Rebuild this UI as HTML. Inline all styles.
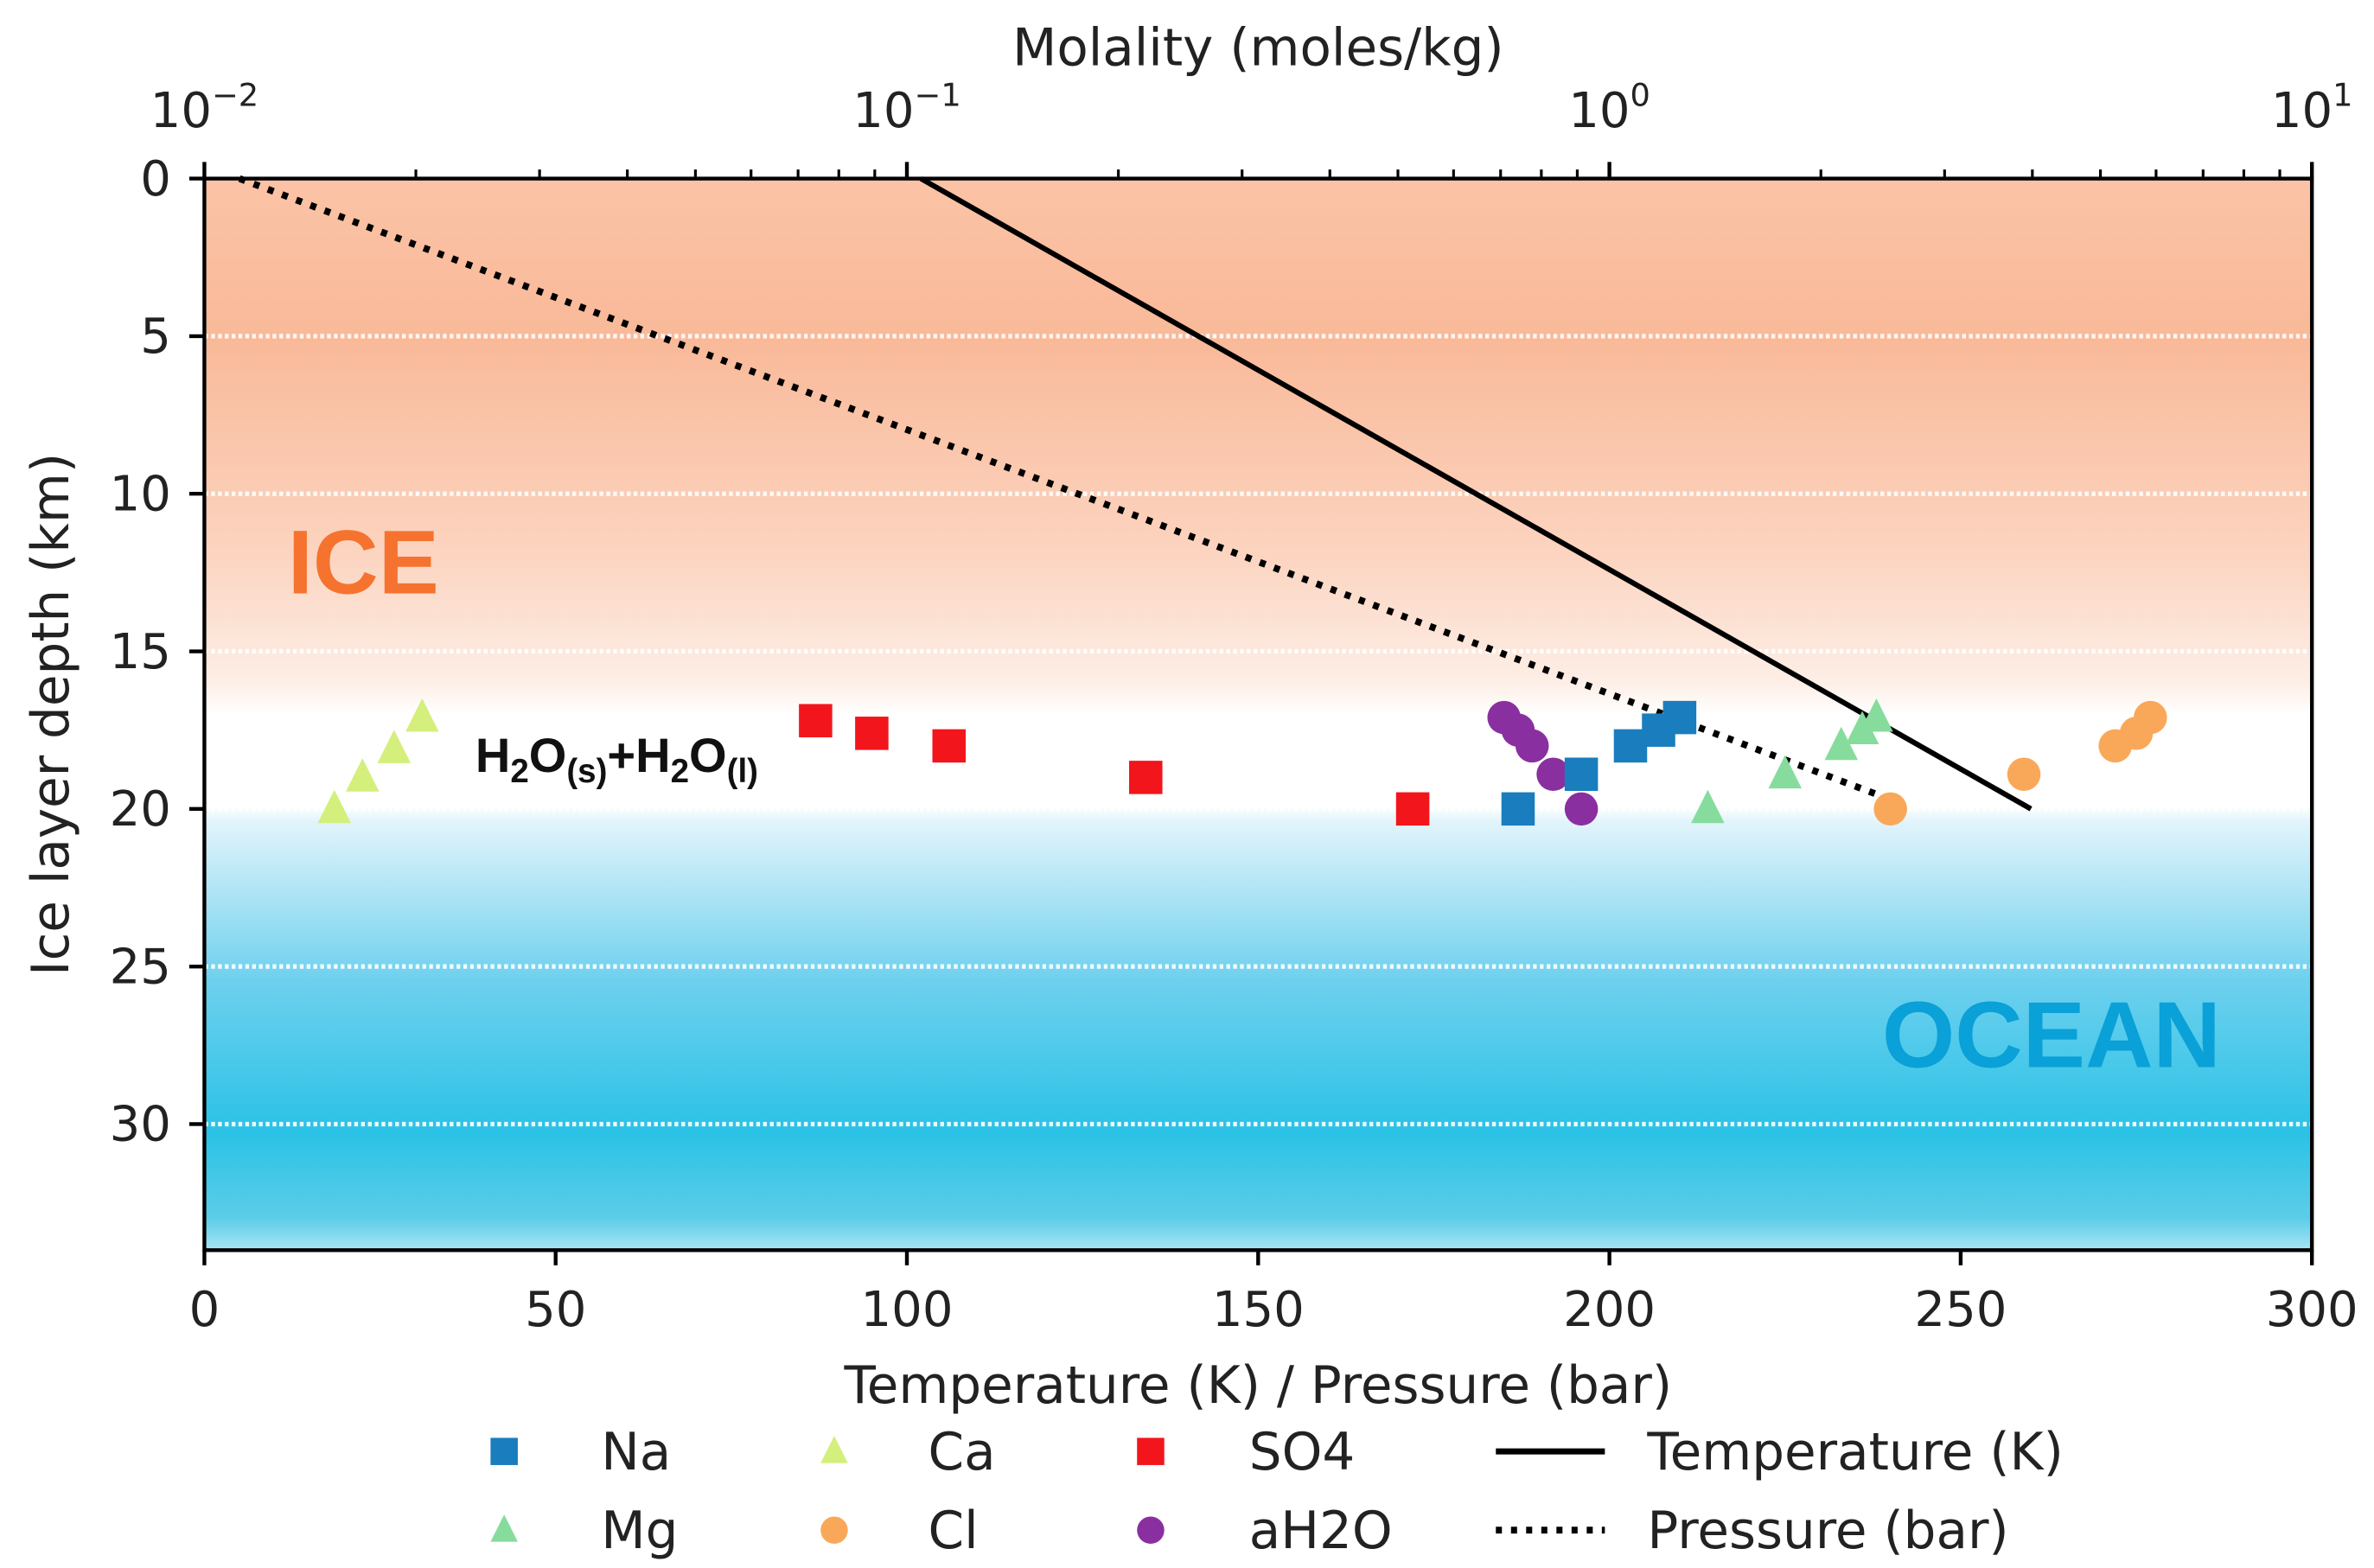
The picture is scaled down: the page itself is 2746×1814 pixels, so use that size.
<!DOCTYPE html>
<html><head><meta charset="utf-8"><style>
html,body{margin:0;padding:0;background:#fff;}
svg{display:block;font-family:"DejaVu Sans","Liberation Sans",sans-serif;}
</style></head><body>
<svg id="chart" width="2746" height="1814" viewBox="0 0 1568 1036" preserveAspectRatio="none" xmlns="http://www.w3.org/2000/svg">
<defs>
<linearGradient id="bg" x1="0" y1="0" x2="0" y2="1">
<stop offset="0" stop-color="#fbc3a6"/>
<stop offset="0.15" stop-color="#f9b999"/>
<stop offset="0.35" stop-color="#fcd4c0"/>
<stop offset="0.47" stop-color="#fdeee6"/>
<stop offset="0.5" stop-color="#ffffff"/>
<stop offset="0.585" stop-color="#ffffff"/>
<stop offset="0.6" stop-color="#e2f4fb"/>
<stop offset="0.75" stop-color="#6dd0ee"/>
<stop offset="0.89" stop-color="#2ac2e6"/>
<stop offset="0.97" stop-color="#5ccde9"/>
<stop offset="1" stop-color="#a8e4f4"/>
</linearGradient>
</defs>
<g id="plot"></g>
</svg>
<script>
const NS="http://www.w3.org/2000/svg";
const tempX=[102,260], tempY=[0,20];
const presX=[5,240], presY=[0,19.7];
const naX=[210,207,203,196,187], naY=[17.1,17.5,18,18.9,20];
const mgX=[238,236,233,225,214], mgY=[17.1,17.5,18,18.9,20];
const caX=[31,27,22.5,18.5], caY=[17.1,18.1,19,20];
const clX=[277,275,272,259,240], clY=[17.1,17.6,18,18.9,20];
const so4X=[87,95,106,134,172], so4Y=[17.2,17.6,18,19,20];
const ahX=[185,187,189,192,196], ahY=[17.1,17.5,18,18.9,20];
const xTicks=[0,50,100,150,200,250,300];
const yTicks=[0,5,10,15,20,25,30];
const gridDepths=[5,10,15,20,25,30];
const topExps=[-2,-1,0,1];

const L=135,R=1527,T=118,B=826;
const sx=v=>L+(v/300)*(R-L);
const sy=v=>T+(v/34)*(B-T);
const sl=m=>L+(Math.log10(m)+2)/3*(R-L);
const g=document.getElementById('plot');
function el(tag,a,p){const e=document.createElementNS(NS,tag);for(const k in a)e.setAttribute(k,a[k]);(p||g).appendChild(e);return e;}

let bg=el('rect',{x:L,y:T,width:R-L,height:B-T,fill:'url(#bg)'});


gridDepths.forEach(d=>{const l=el('line',{x1:L,x2:R,y1:sy(d),y2:sy(d),stroke:'#fff','stroke-width':3,'stroke-dasharray':'2.5 2','stroke-opacity':0.9});

});

function txt(s,x,y,a,name){const t=el('text',Object.assign({x:x,y:y},a));t.textContent=s;

return t;}
txt('ICE',190,392,{'font-family':'Liberation Sans, sans-serif','font-weight':'bold','font-size':60,fill:'#f5732f'},'ice-label');
txt('OCEAN',1243,705,{'font-family':'Liberation Sans, sans-serif','font-weight':'bold','font-size':62,fill:'#0aa0d8'},'ocean-label');
let h=el('text',{x:314,y:510,'font-family':'Liberation Sans, sans-serif','font-weight':'bold','font-size':32,fill:'#111'});
h.innerHTML='H<tspan font-size="22" dy="7">2</tspan><tspan dy="-7">O</tspan><tspan font-size="22" dy="7">(s)</tspan><tspan dy="-7">+H</tspan><tspan font-size="22" dy="7">2</tspan><tspan dy="-7">O</tspan><tspan font-size="22" dy="7">(l)</tspan>';



let tl=el('line',{x1:sx(tempX[0]),y1:sy(tempY[0]),x2:sx(tempX[1]),y2:sy(tempY[1]),stroke:'#000','stroke-width':3.5});


let pl=el('line',{x1:sx(presX[0]),y1:sy(presY[0]),x2:sx(presX[1]),y2:sy(presY[1]),stroke:'#000','stroke-width':4.5,'stroke-dasharray':'4 6'});



function marker(shape,x,y,c,name,s){s=s||11;let m;
 if(shape==='sq')m=el('rect',{x:x-s,y:y-s,width:2*s,height:2*s,fill:c});
 else if(shape==='ci')m=el('circle',{cx:x,cy:y,r:s,fill:c});
 else m=el('polygon',{points:`${x},${y-s*1.15} ${x-s},${y+s*0.85} ${x+s},${y+s*0.85}`,fill:c});
 
 return m;}
const series=[['sq',so4X,so4Y,'#f2151c','so4-point'],['ci',ahX,ahY,'#8a2fa0','ah2o-point'],['sq',naX,naY,'#1a7dbd','na-point'],
['tr',mgX,mgY,'#86dc9c','mg-point'],['tr',caX,caY,'#d4ef7c','ca-point'],['ci',clX,clY,'#f9a85a','cl-point']];
series.forEach(s=>s[1].forEach((v,i)=>marker(s[0],sx(v),sy(s[2][i]),s[3],s[4])));

let fr=el('rect',{x:L,y:T,width:R-L,height:B-T,fill:'none',stroke:'#000','stroke-width':2.5});


xTicks.forEach(v=>{el('line',{x1:sx(v),x2:sx(v),y1:B,y2:B+10,stroke:'#000','stroke-width':2.5});
 txt(String(v),sx(v),876,{'font-size':32,'text-anchor':'middle',fill:'#222'},'x-tick-label');});
yTicks.forEach(v=>{el('line',{x1:L-10,x2:L,y1:sy(v),y2:sy(v),stroke:'#000','stroke-width':2.5});
 txt(String(v),L-22,sy(v)+11,{'font-size':32,'text-anchor':'end',fill:'#222'},'y-tick-label');});
topExps.forEach(e=>{const x=sl(Math.pow(10,e));
 el('line',{x1:x,x2:x,y1:T-11,y2:T,stroke:'#000','stroke-width':2.5});
 let t=el('text',{x:x,y:84,'font-size':32,'text-anchor':'middle',fill:'#222'});
 t.innerHTML='10<tspan font-size="21" dy="-14">'+(e<0?'\u2212'+(-e):e)+'</tspan>';
 
 
 if(e<1)for(let k=2;k<10;k++){const xm=sl(k*Math.pow(10,e));el('line',{x1:xm,x2:xm,y1:T-6,y2:T,stroke:'#000','stroke-width':1.8});}});
txt('Temperature (K) / Pressure (bar)',831,927,{'font-size':34,'text-anchor':'middle',fill:'#222'},'x-axis-title');
txt('Molality (moles/kg)',831,43,{'font-size':34,'text-anchor':'middle',fill:'#222'},'top-axis-title');
txt('Ice layer depth (km)',0,0,{'font-size':34,'text-anchor':'middle',fill:'#222',transform:'translate(45,472) rotate(-90)'},'y-axis-title');

const leg=[['sq',333,959,'#1a7dbd','Na',397],['tr',551,959,'#d4ef7c','Ca',613],['sq',760,959,'#f2151c','SO4',825],
['tr',333,1011,'#86dc9c','Mg',397],['ci',551,1011,'#f9a85a','Cl',613],['ci',760,1011,'#8a2fa0','aH2O',825]];
leg.forEach(l=>{marker(l[0],l[1],l[2],l[3],'legend-marker',9);txt(l[4],l[5],l[2]+12,{'font-size':34,fill:'#222'},'legend-label');});
let a=el('line',{x1:988,x2:1060,y1:959,y2:959,stroke:'#000','stroke-width':4});


let b=el('line',{x1:988,x2:1060,y1:1011,y2:1011,stroke:'#000','stroke-width':4.5,'stroke-dasharray':'4 6'});


txt('Temperature (K)',1088,971,{'font-size':34,fill:'#222'},'legend-label');
txt('Pressure (bar)',1088,1023,{'font-size':34,fill:'#222'},'legend-label');
</script>
</body></html>
